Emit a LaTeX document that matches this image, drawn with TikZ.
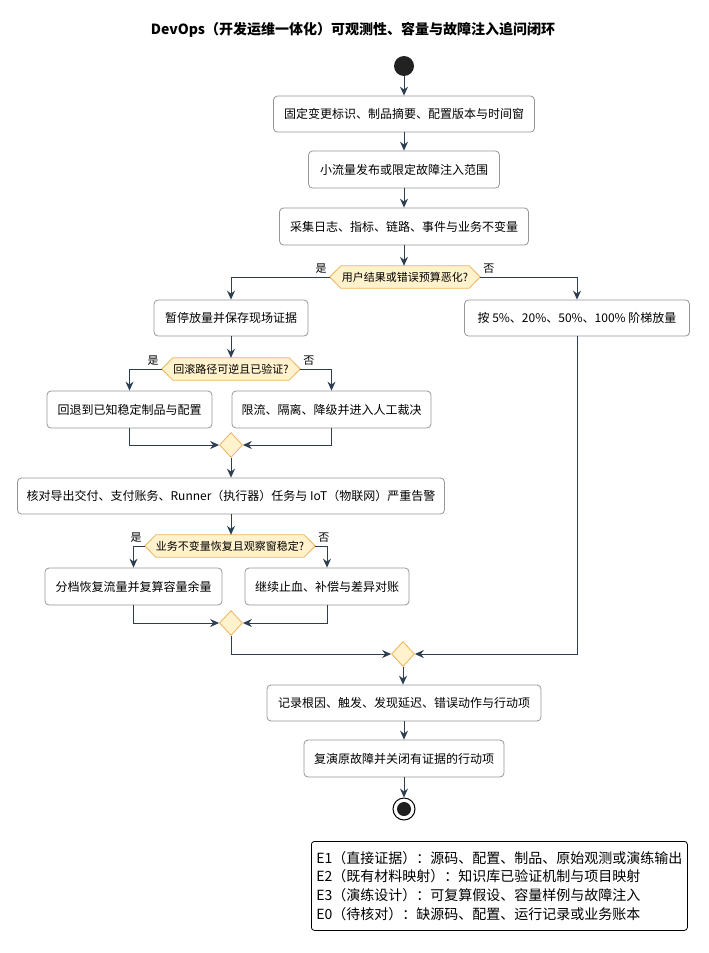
\documentclass[tikz,border=0pt]{standalone}
\usepackage{fontspec}
\setmainfont{Noto Sans CJK SC}
\usetikzlibrary{arrows.meta,shapes.geometric,backgrounds,calc}
\definecolor{lnc}{RGB}{44,62,80}
\definecolor{boxb}{RGB}{150,150,150}
\definecolor{decf}{RGB}{255,242,204}
\definecolor{decb}{RGB}{240,178,90}
\tikzset{
  flow/.style={draw=lnc, line width=1pt, -{Stealth[length=9pt,width=8pt,inset=3pt]}},
  plain/.style={draw=lnc, line width=1pt},
  actbox/.style={draw=boxb, fill=white, line width=0.8pt, rounded corners=4pt, inner sep=0pt, font=\fontsize{12}{14}\selectfont},
  dectext/.style={inner sep=0pt, minimum height=22pt, font=\fontsize{11}{13}\selectfont},
  decbox/.style={draw=decb, fill=decf, line width=0.8pt},
  mergenode/.style={diamond, draw=decb, fill=decf, line width=0.8pt, inner sep=0pt, minimum width=23pt, minimum height=25pt},
  lbl/.style={inner sep=0pt, font=\fontsize{11}{13}\selectfont},
}
\newcommand{\hexnode}[5]{%
  \node[dectext, minimum width=#4] (#1) at (#2,#3) {#5};
  \begin{scope}[on background layer]
  \draw[decbox] (#1.west) -- ([xshift=11pt]#1.north west) -- ([xshift=-11pt]#1.north east) -- (#1.east) -- ([xshift=-11pt]#1.south east) -- ([xshift=11pt]#1.south west) -- cycle;
  \end{scope}
}
\begin{document}
\begin{tikzpicture}[x=1pt,y=-1pt]
\useasboundingbox (0,0) rectangle (709,953);

\node[font=\bfseries\fontsize{14}{16}\selectfont, inner sep=0pt] (title) at (353,30) {DevOps（开发运维一体化）可观测性、容量与故障注入追问闭环};

\node[circle, fill={rgb,255:red,34;green,34;blue,34}, minimum size=20pt, inner sep=0pt] (start) at (404,66) {};

\node[actbox, minimum width=261pt, minimum height=36pt] (b1) at (404,114) {固定变更标识、制品摘要、配置版本与时间窗};
\node[actbox, minimum width=191pt, minimum height=37pt] (b2) at (404,169.5) {小流量发布或限定故障注入范围};
\node[actbox, minimum width=249pt, minimum height=37pt] (b3) at (404,226.5) {采集日志、指标、链路、事件与业务不变量};
\hexnode{d1}{405}{277}{150pt}{用户结果或错误预算恶化?}

\node[actbox, minimum width=154pt, minimum height=36pt] (b4) at (231,318) {暂停放量并保存现场证据};
\node[actbox, minimum width=225pt, minimum height=36pt] (b5) at (577,318) {按 5\%、20\%、50\%、100\% 阶梯放量};

\hexnode{d2}{231}{369}{138pt}{回滚路径可逆且已验证?}
\node[actbox, minimum width=165pt, minimum height=37pt] (b6) at (129.5,409.5) {回退到已知稳定制品与配置};
\node[actbox, minimum width=199pt, minimum height=37pt] (b7) at (331.5,409.5) {限流、隔离、降级并进入人工裁决};
\node[mergenode] (m1) at (231,445) {};

\node[actbox, minimum width=427pt, minimum height=36pt] (b8) at (231,496) {核对导出交付、支付账务、Runner（执行器）任务与 IoT（物联网）严重告警};
\hexnode{d3}{230}{546}{170pt}{业务不变量恢复且观察窗稳定?}
\node[actbox, minimum width=177pt, minimum height=37pt] (b9) at (133.5,586.5) {分档恢复流量并复算容量余量};
\node[actbox, minimum width=164pt, minimum height=37pt] (b10) at (327,586.5) {继续止血、补偿与差异对账};
\node[mergenode] (m2) at (231,623) {};
\node[mergenode] (m3) at (403,654) {};

\node[actbox, minimum width=274pt, minimum height=36pt] (b11) at (404,703) {记录根因、触发、发现延迟、错误动作与行动项};
\node[actbox, minimum width=200pt, minimum height=37pt] (b12) at (404,758.5) {复演原故障并关闭有证据的行动项};

\node[circle, draw=black, line width=1pt, fill=white, minimum size=22pt, inner sep=0pt] (end) at (404,809) {};
\fill[black!88] (end.center) circle (7pt);

% connectors
\draw[flow] (start) -- (b1);
\draw[flow] (b1) -- (b2);
\draw[flow] (b2) -- (b3);
\draw[flow] (b3.south) -- (b3.south |- d1.north);
\draw[flow] (d1.west) -| (b4.north);
\draw[flow] (d1.east) -| (b5.north);
\node[lbl, anchor=south east] (y1) at ([shift={(-3pt,3pt)}]d1.west) {是};
\node[lbl, anchor=south west] (n1) at ([shift={(3pt,3pt)}]d1.east) {否};

\draw[flow] (b4) -- (d2);
\draw[flow] (d2.west) -| (b6.north);
\draw[flow] (d2.east) -| (b7.north);
\node[lbl, anchor=south east] (y2) at ([shift={(-3pt,3pt)}]d2.west) {是};
\node[lbl, anchor=south west] (n2) at ([shift={(3pt,3pt)}]d2.east) {否};
\draw[flow] (b6.south) |- (m1.west);
\draw[flow] (b7.south) |- (m1.east);
\draw[flow] (m1) -- (b8);

\draw[flow] (b8.south) -- (b8.south |- d3.north);
\draw[flow] (d3.west) -| (b9.north);
\draw[flow] (d3.east) -| (b10.north);
\node[lbl, anchor=south east] (y3) at ([shift={(-3pt,3pt)}]d3.west) {是};
\node[lbl, anchor=south west] (n3) at ([shift={(3pt,3pt)}]d3.east) {否};
\draw[flow] (b9.south) |- (m2.west);
\draw[flow] (b10.south) |- (m2.east);
\draw[flow] (m2.south) |- (m3.west);
\draw[flow] (b5.south) |- (m3.east);
\draw[flow] (m3.south) -- (m3.south |- b11.north);
\draw[flow] (b11) -- (b12);
\draw[flow] (b12) -- (end);

% legend
\node[draw=black, line width=0.8pt, rounded corners=3pt, anchor=north west, minimum width=376pt, minimum height=89pt, inner xsep=5pt, inner ysep=0pt, text width=366pt, align=left, font=\fontsize{14}{18.7}\selectfont] (legend) at (311,841) {E1（直接证据）：源码、配置、制品、原始观测或演练输出\\E2（既有材料映射）：知识库已验证机制与项目映射\\E3（演练设计）：可复算假设、容量样例与故障注入\\E0（待核对）：缺源码、配置、运行记录或业务账本};
\end{tikzpicture}
\end{document}
